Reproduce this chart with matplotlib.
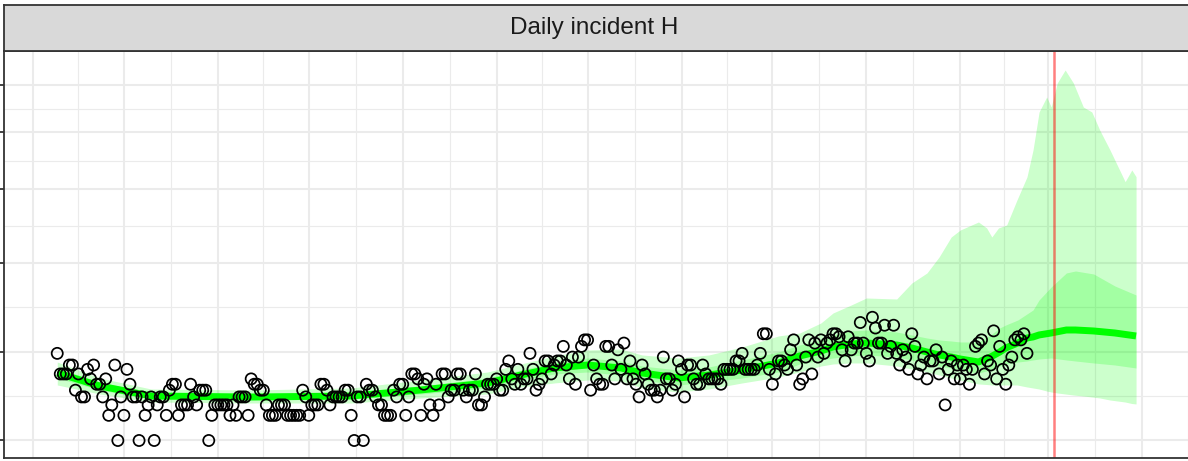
import numpy as np
import pandas as pd
import matplotlib
matplotlib.use("Agg")
import matplotlib.pyplot as plt
import matplotlib.dates as mdates
from matplotlib.ticker import FixedLocator, NullFormatter

# ---------------- data ----------------
title = "Daily incident H"
origin = "2023-04-01"          # day 0 for the knot offsets below
obs_start = "2023-04-09"
forecast_date = "2024-03-03"

obs_counts = [
    # Apr 9 .. Jun 4
    12, 7, 7, 7, 9, 9, 4, 7, 3, 3, 8, 6, 9, 5, 5, 3, 6, 1, 2, 9, 0, 3, 1, 8, 5, 3, 3, 0, 3, 1,
    2, 3, 0, 2, 3, 3, 1, 4, 5, 5, 1, 2, 2, 2, 5, 3, 2, 4, 4, 4, 0, 1, 2, 2, 2, 2, 2,
    # Jun 5 .. Aug 10
    1, 2, 1, 3, 3, 3, 1, 6, 5, 5, 4, 4, 2, 1, 1, 1, 2, 2, 2, 1, 1, 1, 1, 1, 4, 3, 1, 2, 2, 2,
    5, 5, 4, 2, 3, 3, 3, 3, 4, 4, 1, 0, 3, 3, 0, 5, 4, 4, 3, 2, 2, 1, 1, 1, 4, 3, 5, 5, 1, 3,
    7, 7, 6, 1, 5, 6, 2,
    # Aug 11 .. Oct 11
    1, 5, 2, 7, 7, 3, 4, 4, 7, 7, 4, 3, 4, 4, 7, 2, 2, 3, 5, 5, 5, 6, 4, 4, 8, 10, 6, 5, 8, 5,
    6, 6, 12, 8, 4, 5, 6, 10, 10, 7, 9, 10, 10, 14, 9, 6, 11, 5, 11, 14, 16, 16, 4, 9, 6, 5, 5, 14,
    14, 9, 6, 13,
    # Oct 12 .. Dec 13
    8, 15, 6, 10, 6, 5, 3, 9, 7, 5, 4, 4, 3, 4, 11, 6, 6, 4, 5, 10, 8, 3, 9, 9, 6, 5, 5, 9, 7, 6,
    6, 6, 6, 5, 8, 8, 8, 8, 10, 10, 12, 8, 8, 8, 8, 9, 12, 18, 18, 8, 5, 7, 10, 10, 9, 8, 13, 16,
    9, 5, 6, 11, 16,
    # Dec 14 .. Feb 23
    7, 15, 11, 16, 12, 15, 16, 18, 18, 17, 13, 10, 17, 13, 15, 15, 22, 15, 12, 10, 24, 20, 15, 15,
    21, 12, 14, 21, 12, 9, 13, 11, 8, 18, 14, 7, 9, 11, 6, 10, 10, 13, 7, 11, 2, 8, 10, 6, 9, 6,
    9, 8, 5, 8, 14, 15, 16, 7, 10, 9, 19, 6, 14, 8, 5, 9, 11, 16, 17, 16, 18, 12,
]

# outer (wide) interval, knots in days after origin
band_days = [8, 22, 39, 72, 105, 128, 150, 161, 172, 183, 194, 201, 213, 223, 234, 246, 253,
             260, 264, 270, 275, 285, 290, 295, 299, 303, 306, 312, 314.7, 316.4, 318.6, 321.3,
             324.7, 328, 330, 332, 334.5, 336, 338, 340.6, 343.3, 346.6, 349.4, 352, 355.4,
             360.4, 362.6, 364]
outer_lo = [4.87, 3.42, 2.34, 2.22, 2.22, 2.86, 3.42, 4.53, 5.23, 5.79, 5.60, 4.36, 3.72, 4.19,
            5.23, 6.37, 7.42, 8.77, 9.25, 9.50, 9.50, 8.77, 8.08, 7.42, 6.78, 6.18, 5.79, 5.05,
            4.95, 4.87, 4.87, 4.87, 4.87, 4.53, 4.36, 4.19, 3.87, 3.72, 3.57, 3.42, 3.27, 3.13,
            2.99, 2.86, 2.59, 2.34, 2.16, 2.11]
outer_hi = [9.74, 6.18, 4.19, 4.03, 4.36, 5.79, 7.42, 9.25, 11.29, 12.95, 13.24, 11.56, 10.76,
            11.56, 13.82, 17.27, 18.27, 21.83, 25.70, 29.03, 32.10, 31.65, 39.22, 44.36, 53.23,
            65.47, 70.05, 75.48, 71.39, 65.47, 71.39, 73.42, 91.44, 109.8, 133.4, 170.6, 186.5,
            175.8, 202.1, 217.0, 202.1, 175.8, 170.6, 152.4, 133.4, 105.9, 115.7, 110.0]

# inner interval and median
mid_days = [8, 22, 39, 72, 105, 128, 150, 161, 172, 183, 194, 201, 213, 223, 234, 246, 253,
            260, 264, 270, 275, 285, 290, 295, 299, 303, 306, 312, 316, 319, 321, 325, 328,
            330, 332, 336, 341, 344, 350, 357, 364]
inner_lo = [6.18, 4.03, 2.72, 2.59, 2.72, 3.42, 4.36, 5.79, 6.99, 7.42, 6.78, 5.79, 4.87, 5.41,
            6.18, 7.42, 9.25, 10.25, 10.76, 11.29, 11.56, 11.02, 10.25, 9.50, 8.77, 8.31, 7.86,
            7.20, 7.86, 8.77, 9.25, 9.74, 9.99, 10.25, 10.50, 10.76, 10.25, 9.99, 9.50, 9.01, 8.31]
median = [7.20, 4.70, 3.13, 2.99, 3.13, 4.03, 5.23, 6.78, 8.31, 9.01, 8.31, 7.20, 6.18, 6.78,
          7.86, 9.50, 11.29, 12.66, 13.82, 14.72, 15.03, 14.42, 13.53, 12.38, 11.56, 11.02,
          10.50, 9.74, 11.02, 12.38, 13.53, 15.03, 16.61, 16.94, 17.60, 18.27, 19.30, 19.30,
          18.96, 18.27, 17.27]
inner_hi = [8.31, 5.41, 3.57, 3.42, 3.57, 4.70, 6.18, 7.86, 9.74, 10.76, 9.99, 8.77, 7.86, 8.54,
            10.25, 12.38, 14.42, 15.97, 17.60, 18.96, 19.30, 18.61, 17.60, 16.61, 15.97, 15.65,
            15.34, 15.34, 17.60, 20.01, 21.09, 22.96, 25.30, 26.92, 31.21, 37.25, 44.36, 45.42,
            43.83, 37.74, 33.47]

y_breaks = [0, 12.5, 50, 100, 150, 200]

# ---------------- figure ----------------
W, H = 1188, 461
fig = plt.figure(figsize=(W / 100, H / 100), dpi=100)
fig.patch.set_facecolor("white")

# panel (extends slightly past the right edge, as in the cropped reference)
pl, pr, pt, pb = 4, 1190, 51, 457.7
ax = fig.add_axes([pl / W, (H - pb) / H, (pr - pl) / W, (pb - pt) / H])
ax.set_facecolor("white")

def fwd(v):
    v = np.asarray(v, dtype=float)
    return np.sign(v) * np.sqrt(np.abs(v))

def inv(u):
    u = np.asarray(u, dtype=float)
    return np.sign(u) * u ** 2

ax.set_yscale("function", functions=(fwd, inv))

base = pd.Timestamp(origin)
def to_dates(days):
    return base + pd.to_timedelta(np.asarray(days, dtype=float), unit="D")

obs_dates = pd.date_range(obs_start, periods=len(obs_counts), freq="D")
bd = to_dates(band_days)
md = to_dates(mid_days)

green = "#00FF00"
ax.fill_between(bd, outer_lo, outer_hi, color=green, alpha=0.2, lw=0, zorder=2)
ax.fill_between(md, inner_lo, inner_hi, color=green, alpha=0.2, lw=0, zorder=2)
ax.plot(md, median, color=green, lw=5.0, solid_capstyle="butt", zorder=3)
ax.scatter(obs_dates, obs_counts, s=64, facecolors="none", edgecolors="black",
           linewidths=1.25, zorder=4)
ax.axvline(pd.Timestamp(forecast_date), color="red", alpha=0.5, lw=1.8, zorder=5)

# limits
ax.set_ylim(-0.468, 239.8)
ax.set_xlim(base - pd.Timedelta(days=9.57), base + pd.Timedelta(days=381.8))

# y grid / ticks
ax.yaxis.set_major_locator(FixedLocator(y_breaks))
sq = fwd(y_breaks)
y_minor = inv((sq[:-1] + sq[1:]) / 2)
ax.yaxis.set_minor_locator(FixedLocator(y_minor))

# x grid: month starts + midpoints
months = pd.date_range("2023-04-01", "2024-05-01", freq="MS")
mnum = mdates.date2num(months)
ax.xaxis.set_major_locator(FixedLocator(mnum[:-1]))
ax.xaxis.set_minor_locator(FixedLocator((mnum[:-1] + mnum[1:]) / 2))

ax.grid(which="major", color="#EBEBEB", lw=1.5, zorder=0)
ax.grid(which="minor", color="#EBEBEB", lw=0.85, zorder=0)
ax.set_axisbelow(True)

ax.tick_params(axis="y", which="major", direction="out", length=5, width=1.3,
               color="#333333", labelleft=False)
ax.tick_params(axis="y", which="minor", length=0)
ax.tick_params(axis="x", which="both", length=0, labelbottom=False)
ax.yaxis.set_minor_formatter(NullFormatter())
ax.xaxis.set_minor_formatter(NullFormatter())

for s in ax.spines.values():
    s.set_color("#333333")
    s.set_linewidth(1.3)
    s.set_zorder(6)

# facet strip
st_top, st_bot = 5, 51
sax = fig.add_axes([pl / W, (H - st_bot) / H, (pr - pl) / W, (st_bot - st_top) / H])
sax.set_facecolor("#D9D9D9")
sax.set_xticks([])
sax.set_yticks([])
for s in sax.spines.values():
    s.set_color("#333333")
    s.set_linewidth(1.3)
sax.text(0.4975, 0.5, title, transform=sax.transAxes, ha="center", va="center",
         fontsize=17.5, color="#1A1A1A", family=["Liberation Sans", "DejaVu Sans"])

fig.savefig("out.png", dpi=100)
